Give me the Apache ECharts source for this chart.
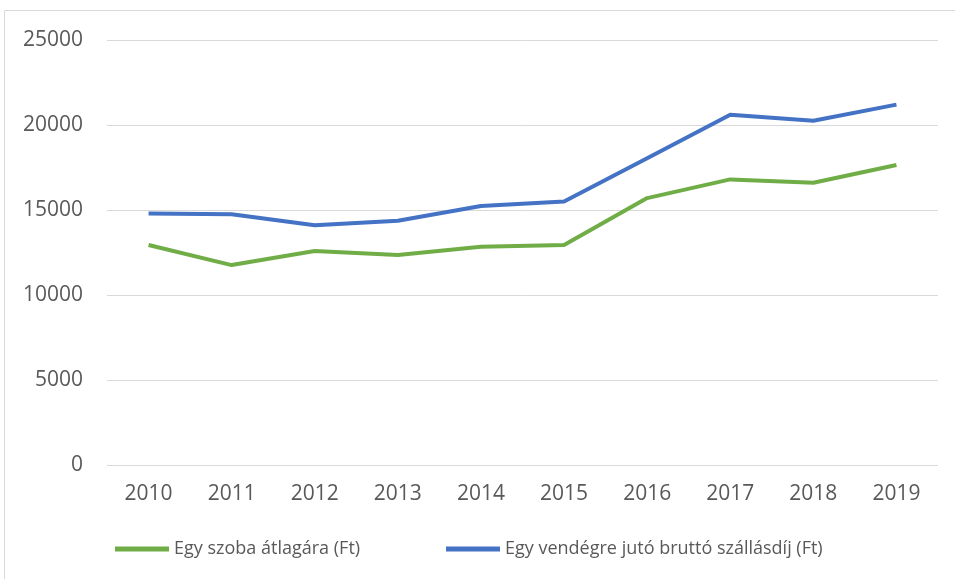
<!DOCTYPE html>
<html><head><meta charset="utf-8">
<script src="https://cdn.jsdelivr.net/npm/echarts@6/dist/echarts.min.js"></script>
<style>html,body{margin:0;padding:0;background:#fff}#c{width:955px;height:579px}</style>
</head><body><div id="c"></div>
<script>
const years = ['2010','2011','2012','2013','2014','2015','2016','2017','2018','2019'];
const roomAvg = [12940, 11760, 12590, 12350, 12840, 12940, 15700, 16800, 16600, 17650];
const guestFee = [14800, 14750, 14100, 14370, 15230, 15500, 18050, 20600, 20250, 21200];
const seriesNames = ['Egy szoba átlagára (Ft)', 'Egy vendégre jutó bruttó szállásdíj (Ft)'];
const chart = echarts.init(document.getElementById('c'));
const font = 'Open Sans';
const legendText = {color:'#595959', fontSize:18, fontFamily:font};
chart.setOption({
  animation: false,
  graphic: [{type:'rect', shape:{x:4.5,y:10.5,width:1000,height:1000}, style:{fill:'none', stroke:'#d9d9d9', lineWidth:1}}],
  grid: {left:107, right:17, top:40, bottom:114, containLabel:false},
  xAxis: {type:'category', data: years, boundaryGap:true,
    axisLine:{show:false}, axisTick:{show:false},
    axisLabel:{color:'#595959', fontSize:21, fontFamily:font, margin:19}},
  yAxis: {type:'value', min:0, max:25000, interval:5000,
    axisLine:{show:false}, axisTick:{show:false},
    axisLabel:{color:'#595959', fontSize:21, fontFamily:font, margin:24, formatter: v => String(v)},
    splitLine:{lineStyle:{color:'#d9d9d9', width:1}}},
  legend: [
    {top:535, left:110, itemWidth:54, itemHeight:5, icon:'rect', itemGap:0,
      textStyle:legendText, data:[seriesNames[0]]},
    {top:535, left:441, itemWidth:54, itemHeight:5, icon:'rect', itemGap:0,
      textStyle:legendText, data:[seriesNames[1]]}
  ],
  series: [
    {name: seriesNames[0], type:'line', data: roomAvg, symbol:'none', lineStyle:{width:4, color:'#70AD47'}, itemStyle:{color:'#70AD47'}},
    {name: seriesNames[1], type:'line', data: guestFee, symbol:'none', lineStyle:{width:4, color:'#4472C4'}, itemStyle:{color:'#4472C4'}}
  ]
});
</script></body></html>
